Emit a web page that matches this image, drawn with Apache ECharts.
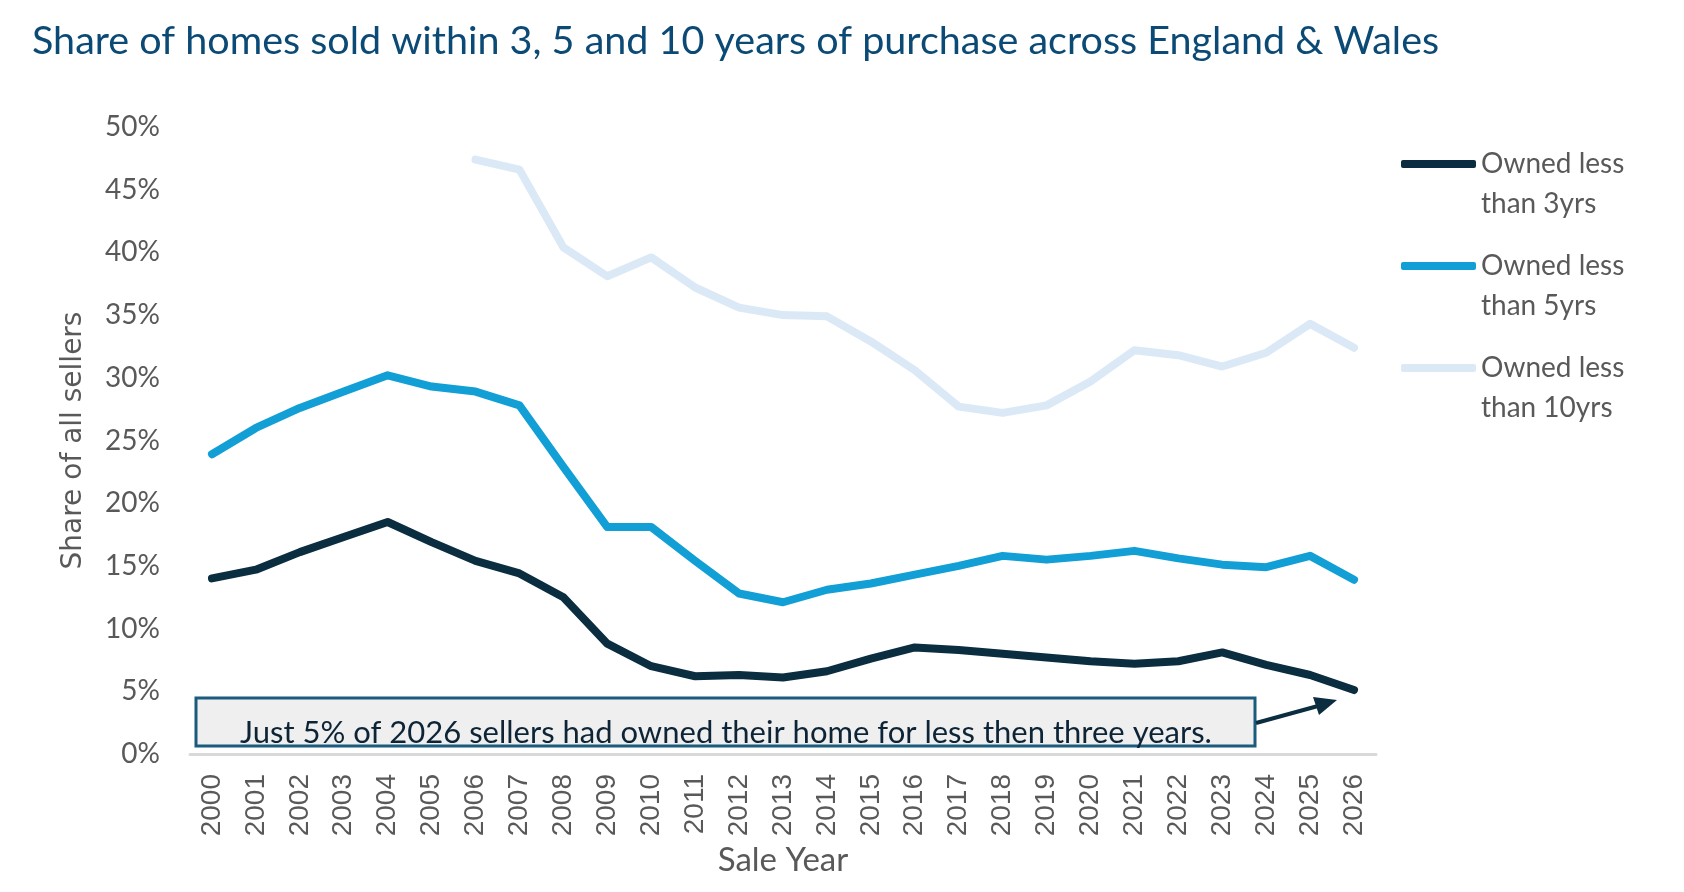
<!DOCTYPE html>
<html>
<head>
<meta charset="utf-8">
<script src="https://cdn.jsdelivr.net/npm/echarts@6/dist/echarts.min.js"></script>
<style>
html,body{margin:0;padding:0;background:#fff;}
#chart{width:1684px;height:892px;}
</style>
</head>
<body>
<div id="chart"></div>
<script>
const years = ['2000','2001','2002','2003','2004','2005','2006','2007','2008','2009','2010','2011','2012','2013','2014','2015','2016','2017','2018','2019','2020','2021','2022','2023','2024','2025','2026'];
const less3 = [14.0,14.7,16.1,17.3,18.5,16.9,15.4,14.4,12.5,8.8,7.0,6.2,6.3,6.1,6.6,7.6,8.5,8.3,8.0,7.7,7.4,7.2,7.4,8.1,7.1,6.3,5.1];
const less5 = [23.9,26.0,27.6,28.9,30.2,29.3,28.9,27.8,22.9,18.1,18.1,15.4,12.8,12.1,13.1,13.6,14.3,15.0,15.8,15.5,15.8,16.2,15.6,15.1,14.9,15.8,13.9];
const less10 = [null,null,null,null,null,null,47.4,46.6,40.4,38.1,39.6,37.2,35.6,35.0,34.9,32.9,30.6,27.7,27.2,27.8,29.7,32.2,31.8,30.9,32.0,34.3,32.4];
const seriesNames = ['Owned less than 3yrs','Owned less than 5yrs','Owned less than 10yrs'];
const legendLabels = {'Owned less than 3yrs':' \nOwned less\nthan 3yrs','Owned less than 5yrs':' \nOwned less\nthan 5yrs','Owned less than 10yrs':' \nOwned less\nthan 10yrs'};
const yTicks = {min:0, max:50, interval:5};
const titleText = 'Share of homes sold within 3, 5 and 10 years of purchase across England & Wales';
const noteText = 'Just 5% of 2026 sellers had owned their home for less then three years.';

const chart = echarts.init(document.getElementById('chart'));
const lineColors = ['#0b2d40','#129fd6','#dbe9f7'];
function mk(name, data, color){
  return {name:name, type:'line', data:data, symbol:'none', smooth:false,
    lineStyle:{width:8, color:color, cap:'round', join:'round'}, itemStyle:{color:color}, z: 3};
}
chart.setOption({
  animation:false,
  title:{text:titleText, left:27, top:16, textStyle:{fontFamily:'Lato', fontSize:39.5, fontWeight:'normal', color:'#0c4a76'}},
  grid:{left:190, right:308, top:127, bottom:138},
  legend:{orient:'vertical', left:1401, top:104, padding:0, itemGap:-18, itemWidth:75, itemHeight:8, icon:'roundRect',
    data:seriesNames,
    formatter:function(n){return legendLabels[n];},
    textStyle:{fontFamily:'Lato', fontSize:28, color:'#595959', lineHeight:40}},
  xAxis:{type:'category', data:years, boundaryGap:true,
    name:'Sale Year', nameLocation:'middle', nameGap:58,
    nameTextStyle:{fontFamily:'Lato', fontSize:33, color:'#595959'},
    axisLine:{lineStyle:{color:'#d9d9d9', width:3}}, axisTick:{show:false},
    axisLabel:{rotate:90, interval:0, margin:20, fontFamily:'Liberation Sans', fontSize:28, color:'#595959'}},
  yAxis:{type:'value', min:yTicks.min, max:yTicks.max, interval:yTicks.interval,
    name:'Share of all sellers', nameLocation:'middle', nameGap:102,
    nameTextStyle:{fontFamily:'DejaVu Sans', fontSize:28, color:'#595959'},
    axisLine:{show:false}, axisTick:{show:false}, splitLine:{show:false},
    axisLabel:{formatter:'{value}%', margin:30, fontFamily:'Lato', fontSize:28, color:'#595959'}},
  series:[mk(seriesNames[0], less3, lineColors[0]), mk(seriesNames[1], less5, lineColors[1]), mk(seriesNames[2], less10, lineColors[2])],
  graphic:[
    {type:'rect', x:196, y:698, shape:{width:1059, height:48}, style:{fill:'#efefef', stroke:'#1b5b7e', lineWidth:3}, z:10},
    {type:'text', x:726, y:733, style:{text:noteText, align:'center', verticalAlign:'middle', fontFamily:'Lato', fontSize:31, fill:'#0d2436'}, z:11},
    {type:'line', shape:{x1:1256, y1:723, x2:1318, y2:706}, style:{stroke:'#0b2d40', lineWidth:4}, z:11},
    {type:'polygon', shape:{points:[[1337,700],[1313,697],[1319,715]]}, style:{fill:'#0b2d40'}, z:11}
  ]
});
</script>
</body>
</html>
